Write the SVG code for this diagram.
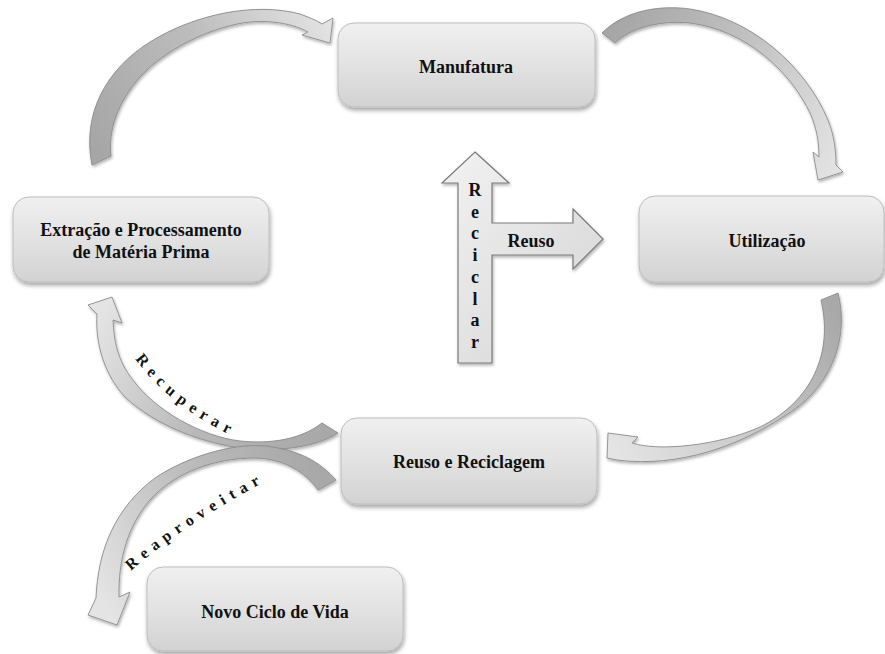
<svg xmlns="http://www.w3.org/2000/svg" width="885" height="654" viewBox="0 0 885 654">
  <defs>
    <style>
      .box { fill: url(#boxFill); stroke: #bdbdbd; stroke-width: 1; filter: url(#shadow); }
      .label { font-family: "Liberation Serif", "Times New Roman", serif; font-weight: bold; font-size: 18px; fill: #111; text-anchor: middle; }
      .curve { stroke: #8c8c8c; stroke-width: 0.9; stroke-linejoin: round; filter: url(#shadowSoft); }
      .arc-text { font-family: "Liberation Serif", "Times New Roman", serif; font-weight: bold; font-size: 16px; fill: #111; letter-spacing: 6px; }
    </style>
    <linearGradient id="boxFill" x1="0" y1="0" x2="0" y2="1">
      <stop offset="0" stop-color="#f0f0f0"/>
      <stop offset="0.5" stop-color="#e2e2e2"/>
      <stop offset="1" stop-color="#d2d2d2"/>
    </linearGradient>
    <linearGradient id="tFill" x1="0" y1="0" x2="1" y2="1">
      <stop offset="0" stop-color="#f2f2f2"/>
      <stop offset="1" stop-color="#d4d4d4"/>
    </linearGradient>
    <linearGradient id="g1" gradientUnits="userSpaceOnUse" x1="100" y1="160" x2="330" y2="30">
      <stop offset="0" stop-color="#a6a6a6"/>
      <stop offset="0.55" stop-color="#bdbdbd"/>
      <stop offset="1" stop-color="#e2e2e2"/>
    </linearGradient>
    <linearGradient id="g2" gradientUnits="userSpaceOnUse" x1="608" y1="38" x2="828" y2="175">
      <stop offset="0" stop-color="#a6a6a6"/>
      <stop offset="0.5" stop-color="#c4c4c4"/>
      <stop offset="1" stop-color="#e2e2e2"/>
    </linearGradient>
    <linearGradient id="g3" gradientUnits="userSpaceOnUse" x1="830" y1="300" x2="610" y2="445">
      <stop offset="0" stop-color="#a8a8a8"/>
      <stop offset="0.5" stop-color="#c8c8c8"/>
      <stop offset="1" stop-color="#e4e4e4"/>
    </linearGradient>
    <linearGradient id="gA" gradientUnits="userSpaceOnUse" x1="330" y1="428" x2="105" y2="305">
      <stop offset="0" stop-color="#a8a8a8"/>
      <stop offset="0.45" stop-color="#b8b8b8"/>
      <stop offset="1" stop-color="#e4e4e4"/>
    </linearGradient>
    <linearGradient id="gB" gradientUnits="userSpaceOnUse" x1="327" y1="485" x2="110" y2="615">
      <stop offset="0" stop-color="#a8a8a8"/>
      <stop offset="0.45" stop-color="#bcbcbc"/>
      <stop offset="1" stop-color="#e4e4e4"/>
    </linearGradient>
    <filter id="shadow" x="-10%" y="-20%" width="125%" height="150%">
      <feDropShadow dx="1" dy="3" stdDeviation="2" flood-color="#000" flood-opacity="0.35"/>
    </filter>
    <filter id="shadowSoft" x="-10%" y="-10%" width="130%" height="130%">
      <feDropShadow dx="1" dy="2" stdDeviation="1.5" flood-color="#000" flood-opacity="0.3"/>
    </filter>
  </defs>

  <rect width="885" height="654" fill="#ffffff"/>

  <!-- curved connectors -->
  <g id="connectors">
    <!-- extraction to manufacturing -->
    <path class="curve" fill="url(#g1)" d="M 92,165 C 82,115 105,70 150,42 C 195,14 255,2 300,14 C 308,17 316,20 322,24 L 333,18 L 330,43 L 302,35 L 308,32 C 290,22 260,18 233,25 C 195,34 160,55 140,77 C 118,102 108,130 111,156 Z"/>
    <!-- manufacturing to use -->
    <path class="curve" fill="url(#g2)" d="M 602,33 C 625,10 660,5 690,9 C 750,18 805,65 828,120 C 834,135 836,150 836,165 L 843,172 L 818,180 L 813,152 L 819,157 C 819,140 816,128 811,115 C 790,70 745,30 690,23 C 660,20 630,28 615,43 Z"/>
    <!-- use to reuse and recycling -->
    <path class="curve" fill="url(#g3)" d="M 838,293 C 850,340 830,390 783,417 C 740,445 680,468 617,460 L 607,458 L 608,433 L 638,437 L 632,443 C 660,452 720,445 760,427 C 805,405 835,360 821,300 Z"/>
    <!-- recover: back to extraction -->
    <path class="curve" fill="url(#gA)" d="M 322,423 C 300,440 270,444 240,441 C 200,436 155,410 133,380 C 117,360 114,340 113,320 L 122,323 L 112,297 L 88,305 L 97,314 C 95,345 105,375 125,397 C 155,425 205,446 258,450 C 290,450 320,445 338,433 Z"/>
    <!-- reuse: towards a new life cycle -->
    <path class="curve" fill="url(#gB)" d="M 336,480 C 320,462 300,450 265,446 C 230,443 185,458 155,478 C 115,508 98,550 96,598 L 88,615 L 117,625 L 130,592 L 119,597 C 118,560 128,525 150,500 C 175,472 215,458 255,458 C 285,459 305,472 318,490 Z"/>

    <path id="recPath" fill="none" d="M 135,359 C 160,392 192,418 245,442"/>
    <path id="reaPath" fill="none" d="M 131,571 C 165,540 215,508 275,476"/>
    <text class="arc-text"><textPath href="#recPath">Recuperar</textPath></text>
    <text class="arc-text"><textPath href="#reaPath">Reaproveitar</textPath></text>

    <!-- recycle / reuse T arrow -->
    <g id="recycle-arrow">
      <path fill="url(#tFill)" stroke="#7a7a7a" stroke-width="1.2" stroke-linejoin="miter" filter="url(#shadowSoft)" d="M 475,152 L 509,183 L 492,183 L 492,223 L 573,223 L 573,209 L 603,239 L 573,269 L 573,255 L 492,255 L 492,363 L 458,363 L 458,183 L 442,183 Z"/>
      <g class="label">
        <text x="475" y="196">R</text>
        <text x="475" y="217.7">e</text>
        <text x="475" y="239.4">c</text>
        <text x="475" y="261.1">i</text>
        <text x="475" y="282.8">c</text>
        <text x="475" y="304.5">l</text>
        <text x="475" y="326.2">a</text>
        <text x="475" y="348">r</text>
      </g>
      <text class="label" x="531" y="247">Reuso</text>
    </g>
  </g>

  <g id="manufatura">
    <rect class="box" x="338" y="23" width="257" height="84" rx="16"/>
    <text class="label" x="466" y="73">Manufatura</text>
  </g>

  <g id="extracao">
    <rect class="box" x="13" y="197" width="256" height="85" rx="16"/>
    <text class="label" x="141" y="236">Extração e Processamento</text>
    <text class="label" x="141" y="258">de Matéria Prima</text>
  </g>

  <g id="utilizacao">
    <rect class="box" x="639" y="196" width="245" height="86" rx="16"/>
    <text class="label" x="767" y="247">Utilização</text>
  </g>

  <g id="reuso-reciclagem">
    <rect class="box" x="341" y="418" width="256" height="86" rx="16"/>
    <text class="label" x="469" y="468">Reuso e Reciclagem</text>
  </g>

  <g id="novo-ciclo">
    <rect class="box" x="147" y="567" width="256" height="84" rx="16"/>
    <text class="label" x="275" y="618">Novo Ciclo de Vida</text>
  </g>
</svg>
